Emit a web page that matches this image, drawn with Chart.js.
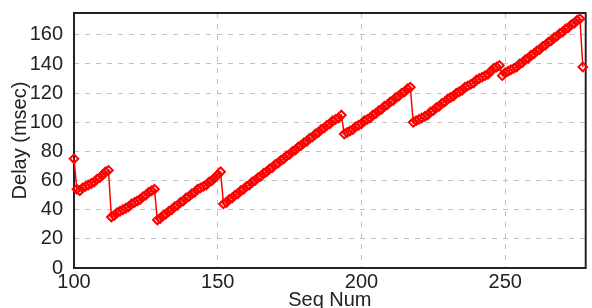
<!DOCTYPE html>
<html>
<head>
<meta charset="utf-8">
<script src="https://cdn.jsdelivr.net/npm/chart.js@4"></script>
<style>
    html, body { margin: 0; padding: 0; background: #fff; }
    canvas { display: block; }
</style>
</head>
<body>
<canvas id="chartDelay" width="592" height="308"></canvas>
<script>
// Seq num vs delay
const seqNums = [
    100, 101, 102, 103, 104, 105, 106, 107, 108, 109, 110, 111, 112, 113, 114, 115, 116, 117, 118, 119,
    120, 121, 122, 123, 124, 125, 126, 127, 128, 129, 130, 131, 132, 133, 134, 135, 136, 137, 138, 139,
    140, 141, 142, 143, 144, 145, 146, 147, 148, 149, 150, 151, 152, 153, 154, 155, 156, 157, 158, 159,
    160, 161, 162, 163, 164, 165, 166, 167, 168, 169, 170, 171, 172, 173, 174, 175, 176, 177, 178, 179,
    180, 181, 182, 183, 184, 185, 186, 187, 188, 189, 190, 191, 192, 193, 194, 195, 196, 197, 198, 199,
    200, 201, 202, 203, 204, 205, 206, 207, 208, 209, 210, 211, 212, 213, 214, 215, 216, 217, 218, 219,
    220, 221, 222, 223, 224, 225, 226, 227, 228, 229, 230, 231, 232, 233, 234, 235, 236, 237, 238, 239,
    240, 241, 242, 243, 244, 245, 246, 247, 248, 249, 250, 251, 252, 253, 254, 255, 256, 257, 258, 259,
    260, 261, 262, 263, 264, 265, 266, 267, 268, 269, 270, 271, 272, 273, 274, 275, 276, 277
];
const delays = [
    75, 54, 53, 55, 56, 57, 58, 59, 61, 62, 64, 66, 67, 35, 36, 38, 39, 40, 41, 42,
    44, 45, 46, 47, 49, 50, 52, 53, 54, 33, 34, 36, 37, 39, 40, 42, 43, 45, 46, 48,
    49, 51, 52, 54, 55, 56, 57, 59, 60, 62, 64, 66, 44, 45, 47, 48, 50, 51, 53, 54,
    56, 57, 59, 60, 62, 63, 65, 66, 68, 69, 71, 72, 74, 75, 77, 78, 80, 81, 83, 84,
    86, 87, 89, 90, 92, 93, 95, 96, 98, 99, 101, 102, 103, 105, 92, 93, 94, 95, 97, 98,
    99, 101, 102, 103, 105, 106, 108, 109, 111, 112, 114, 115, 117, 118, 120, 121, 123, 124, 100, 101,
    102, 103, 104, 105, 107, 108, 110, 111, 113, 114, 116, 117, 118, 120, 121, 122, 124, 125, 126, 127,
    129, 130, 131, 132, 133, 135, 137, 138, 139, 132, 134, 135, 136, 137, 138, 140, 141, 143, 144, 146,
    147, 149, 150, 152, 153, 155, 156, 158, 159, 161, 162, 164, 165, 167, 168, 170, 171, 138
];
const yTicks = [0, 20, 40, 60, 80, 100, 120, 140, 160];
const xTicks = [100, 150, 200, 250];

const FONT = { family: "'Liberation Sans', Arial, sans-serif", size: 20 };
const TITLE_FONT = { family: "'Liberation Sans', Arial, sans-serif", size: 20, lineHeight: 1 };
const TEXT = '#222';
const GRID = '#c0c0c0';

// frame around the plot area
const framePlugin = {
    id: 'frame',
    beforeDatasetsDraw(chart) {
        const a = chart.chartArea;
        const ctx = chart.ctx;
        ctx.save();
        ctx.strokeStyle = '#222';
        ctx.lineWidth = 2;
        ctx.strokeRect(a.left, a.top, a.right - a.left, a.bottom - a.top);
        ctx.restore();
    }
};

const points = seqNums.map((s, i) => ({ x: s, y: delays[i] }));

new Chart(document.getElementById('chartDelay').getContext('2d'), {
    type: 'line',
    data: {
        datasets: [{
            data: points,
            borderColor: '#ff0000',
            borderWidth: 1.5,
            pointStyle: 'rectRot',
            pointRadius: 4.3,
            pointBorderWidth: 2,
            pointBorderColor: '#ff0000',
            pointBackgroundColor: 'rgba(255,255,255,0)',
            tension: 0,
            clip: false
        }]
    },
    options: {
        responsive: false,
        animation: false,
        devicePixelRatio: 1,
        layout: { padding: { top: 13, right: 1, left: 0, bottom: 0 } },
        plugins: { legend: { display: false }, tooltip: { enabled: false } },
        scales: {
            x: {
                type: 'linear',
                min: 100,
                max: 278,
                afterFit: s => { s.height = 40; s.paddingLeft = 0; s.paddingRight = 0; },
                afterBuildTicks: s => { s.ticks = xTicks.map(v => ({ value: v })); },
                ticks: { font: FONT, color: TEXT, padding: 2, maxRotation: 0, autoSkip: false },
                grid: { color: GRID, drawTicks: false, lineWidth: 1 },
                border: { display: false, dash: [5, 6] },
                title: { display: true, text: 'Seq Num', font: TITLE_FONT, color: TEXT, padding: { top: 0, bottom: -2 } }
            },
            y: {
                min: 0,
                max: 175,
                afterFit: s => { s.width = 74; s.paddingTop = 0; s.paddingBottom = 0; },
                afterBuildTicks: s => { s.ticks = yTicks.map(v => ({ value: v })); },
                ticks: { font: FONT, color: TEXT, padding: 11 },
                grid: { color: GRID, drawTicks: false, lineWidth: 1 },
                border: { display: false, dash: [5, 6] },
                title: { display: true, text: 'Delay (msec)', font: FONT, color: TEXT, padding: { top: 8, bottom: 0 } }
            }
        }
    },
    plugins: [framePlugin]
});
</script>
</body>
</html>
